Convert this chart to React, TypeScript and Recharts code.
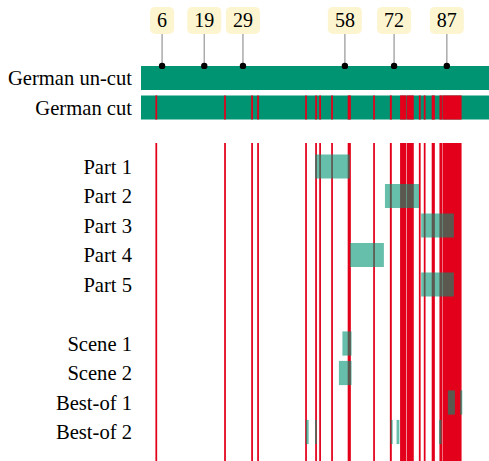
import React from 'react';
import { ComposedChart, XAxis, YAxis, Scatter, ReferenceArea } from 'recharts';

// timeline length (units of the x axis)
const filmLength = 99;

// row labels, by row index (empty rows are gaps)
const rowLabels: Record<number, string> = {
  0: 'German un-cut',
  1: 'German cut',
  3: 'Part 1',
  4: 'Part 2',
  5: 'Part 3',
  6: 'Part 4',
  7: 'Part 5',
  9: 'Scene 1',
  10: 'Scene 2',
  11: 'Best-of 1',
  12: 'Best-of 2',
};
const rowTicks = [0, 1, 3, 4, 5, 6, 7, 9, 10, 11, 12];

// cuts removed in the German cut version [start, end]
const cuts: [number, number][] = [
  [4.1, 4.6], [23.65, 24.15], [31.35, 31.85], [33.05, 33.55], [46.7, 47.2],
  [49.55, 50.05], [50.7, 51.2], [54.1, 54.6], [58.8, 59.7], [66.05, 66.55],
  [70.8, 71.35], [73.7, 75.5], [75.65, 77.6], [79.05, 79.55], [80.45, 80.95],
  [82.7, 83.6], [84.9, 85.75], [85.85, 91.2],
];

// segments per row [row, start, end]
const segments: [number, number, number][] = [
  [3, 49.5, 59.4],
  [4, 69.4, 79.1],
  [5, 79.7, 89.0],
  [6, 59.5, 69.1],
  [7, 79.7, 89.0],
  [9, 57.3, 59.9],
  [10, 56.3, 59.9],
  [11, 87.3, 89.3], [11, 90.8, 91.4],
  [12, 46.9, 47.7], [12, 49.5, 50.0], [12, 71.0, 71.6], [12, 72.7, 73.5], [12, 84.8, 85.5],
];

// markers above the un-cut bar
const markerPos = [6, 18, 29, 58, 72, 87];
const markerLabels = ['6', '19', '29', '58', '72', '87'];

const GREEN = '#009473';
const RED = '#e3001b';
const HALF = 0.41;
const Y_MIN = -2.644;
const Y_MAX = 12.983;
const FONT = '"Liberation Serif", "Times New Roman", Times, serif';

const markers = markerPos.map((x, i) => ({ x, y: -HALF, label: markerLabels[i] }));

const MarkerShape = (props: any) => {
  const { cx, cy, payload } = props;
  const w = 14 + payload.label.length * 10;
  return (
    <g>
      <line x1={cx} y1={cy} x2={cx} y2={cy - 32} stroke="#aaa" strokeWidth={1.5} />
      <rect x={cx - w / 2} y={cy - 59} width={w} height={27} rx={5} fill="#fcf5d0" />
      <text x={cx} y={cy - 38.5} textAnchor="middle" fill="#000"
        style={{ fontFamily: FONT, fontSize: 20 }}>{payload.label}</text>
      <circle cx={cx} cy={cy} r={3.2} fill="#000" />
    </g>
  );
};

export default function App() {
  return (
    <div style={{ position: 'absolute', left: 0, top: 0, width: 489, height: 461, background: '#fff', fontFamily: FONT }}>
      <ComposedChart width={489} height={461} data={markers} style={{ fontFamily: FONT }}
        margin={{ top: 0, right: 0, bottom: 0, left: 0 }}>
        <XAxis type="number" dataKey="x" domain={[0, filmLength]} hide />
        <YAxis type="number" dataKey="y" domain={[Y_MIN, Y_MAX]} reversed width={141}
          ticks={rowTicks} tickFormatter={(v: number) => rowLabels[v] ?? ''}
          axisLine={false} tickLine={false} interval={0} allowDataOverflow tickMargin={3}
          tick={{ fontSize: 20.6, fill: '#000', style: { fontFamily: FONT } }} />

        <ReferenceArea x1={0} x2={filmLength} y1={-HALF} y2={HALF} fill={GREEN} fillOpacity={1} />
        <ReferenceArea x1={0} x2={filmLength} y1={1 - HALF} y2={1 + HALF} fill={GREEN} fillOpacity={1} />

        {cuts.map(([s, e], i) => (
          <ReferenceArea key={'c' + i} x1={s} x2={e} y1={1 - HALF} y2={1 + HALF}
            fill={RED} fillOpacity={1} />
        ))}
        {cuts.map(([s, e], i) => (
          <ReferenceArea key={'l' + i} x1={s} x2={e} y1={2.2} y2={Y_MAX}
            fill={RED} fillOpacity={1} />
        ))}
        {segments.map(([r, s, e], i) => (
          <ReferenceArea key={'s' + i} x1={s} x2={e} y1={r - HALF} y2={r + HALF}
            fill={GREEN} fillOpacity={0.6} />
        ))}

        <Scatter dataKey="y" shape={MarkerShape} isAnimationActive={false} />
      </ComposedChart>
    </div>
  );
}
